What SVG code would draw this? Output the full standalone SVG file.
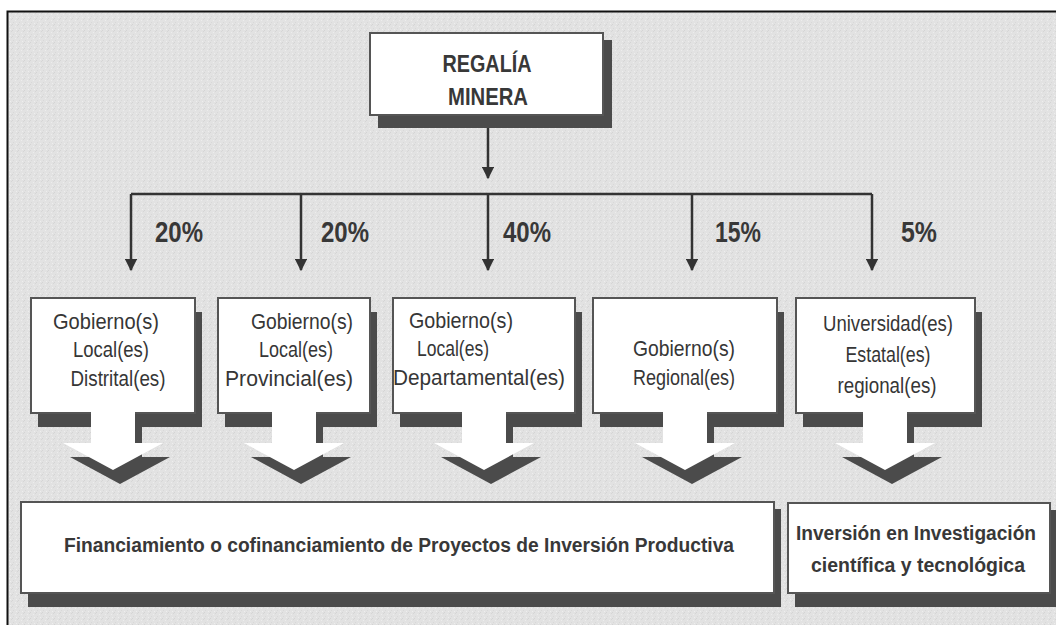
<svg xmlns="http://www.w3.org/2000/svg" width="1056" height="625" viewBox="0 0 1056 625">
<defs>
<style>
.shadow{fill:#4b4b4b}
.box{fill:#ffffff;stroke:#555;stroke-width:2}
.white{fill:#ffffff}
.t{font-family:"Liberation Sans",Arial,sans-serif;font-size:22px;fill:#363636;text-anchor:middle}
.b{font-family:"Liberation Sans",Arial,sans-serif;font-weight:bold;fill:#383838}
.pct{font-size:29px}
.ln{stroke:#333;stroke-width:2.5;fill:none}
</style>
<pattern id="tex" width="6" height="6" patternUnits="userSpaceOnUse">
<rect width="6" height="6" fill="#e2e2e2"/>
<rect x="0" y="0" width="1" height="1" fill="#d4d4d4"/>
<rect x="3" y="2" width="1" height="1" fill="#ededed"/>
<rect x="1" y="4" width="1" height="1" fill="#d8d8d8"/>
<rect x="4" y="5" width="1" height="1" fill="#eeeeee"/>
<rect x="5" y="1" width="1" height="1" fill="#d6d6d6"/>
</pattern>
<marker id="ah" viewBox="0 0 10 10" refX="9" refY="5" markerWidth="5" markerHeight="5" markerUnits="strokeWidth" orient="auto">
<path d="M0,0 L10,5 L0,10 Z" fill="#333"/>
</marker>
</defs>
<rect x="0" y="0" width="1056" height="625" fill="#ffffff"/>
<rect x="7" y="11" width="1049" height="614" fill="url(#tex)"/>
<path d="M7.5,625 V11.5 H1056" stroke="#111" stroke-width="2" fill="none"/>

<g id="connectors">
<path class="ln" d="M488,128 V178" marker-end="url(#ah)"/>
<path class="ln" d="M131,194 H872"/>
<path class="ln" d="M131,194 V270" marker-end="url(#ah)"/>
<path class="ln" d="M301,194 V270" marker-end="url(#ah)"/>
<path class="ln" d="M488,194 V270" marker-end="url(#ah)"/>
<path class="ln" d="M692,194 V270" marker-end="url(#ah)"/>
<path class="ln" d="M872,194 V270" marker-end="url(#ah)"/>
<text class="b pct" x="155" y="242" textLength="48" lengthAdjust="spacingAndGlyphs">20%</text>
<text class="b pct" x="321" y="242" textLength="48" lengthAdjust="spacingAndGlyphs">20%</text>
<text class="b pct" x="503" y="242" textLength="48" lengthAdjust="spacingAndGlyphs">40%</text>
<text class="b pct" x="715" y="242" textLength="46" lengthAdjust="spacingAndGlyphs">15%</text>
<text class="b pct" x="901" y="242" textLength="36" lengthAdjust="spacingAndGlyphs">5%</text>
</g>

<g id="regalia">
<rect class="shadow" x="378" y="40" width="234" height="88"/>
<rect class="box" x="370" y="33" width="233" height="82"/>
<text class="b" x="487" y="72" font-size="24" text-anchor="middle" textLength="89" lengthAdjust="spacingAndGlyphs">REGALÍA</text>
<text class="b" x="488" y="105" font-size="24" text-anchor="middle" textLength="80" lengthAdjust="spacingAndGlyphs">MINERA</text>
</g>

<g id="box1">
<path class="shadow" transform="translate(7,14)" d="M31,298 H195 V413 H135 V443 H163 L113,470 L63,443 H91 V413 H31 Z"/>
<rect class="box" x="31" y="298" width="164" height="115"/>
<polygon class="white" points="91,412 135,412 135,443 163,443 113,470 63,443 91,443"/>
<text class="t" x="106" y="329" textLength="106" lengthAdjust="spacingAndGlyphs">Gobierno(s)</text>
<text class="t" x="111" y="357" textLength="76" lengthAdjust="spacingAndGlyphs">Local(es)</text>
<text class="t" x="118" y="386" textLength="95" lengthAdjust="spacingAndGlyphs">Distrital(es)</text>
</g>

<g id="box2">
<path class="shadow" transform="translate(7,14)" d="M218,298 H370 V413 H316 V443 H344 L294,470 L244,443 H272 V413 H218 Z"/>
<rect class="box" x="218" y="298" width="152" height="115"/>
<polygon class="white" points="272,412 316,412 316,443 344,443 294,470 244,443 272,443"/>
<text class="t" x="302" y="329" textLength="102" lengthAdjust="spacingAndGlyphs">Gobierno(s)</text>
<text class="t" x="296" y="357" textLength="74" lengthAdjust="spacingAndGlyphs">Local(es)</text>
<text class="t" x="289" y="386" textLength="128" lengthAdjust="spacingAndGlyphs">Provincial(es)</text>
</g>

<g id="box3">
<path class="shadow" transform="translate(7,14)" d="M393,298 H575 V413 H506 V443 H534 L484,470 L434,443 H462 V413 H393 Z"/>
<rect class="box" x="393" y="298" width="182" height="115"/>
<polygon class="white" points="462,412 506,412 506,443 534,443 484,470 434,443 462,443"/>
<text class="t" x="461" y="328" textLength="104" lengthAdjust="spacingAndGlyphs">Gobierno(s)</text>
<text class="t" x="453" y="356" textLength="72" lengthAdjust="spacingAndGlyphs">Local(es)</text>
<text class="t" x="479" y="385" textLength="172" lengthAdjust="spacingAndGlyphs">Departamental(es)</text>
</g>

<g id="box4">
<path class="shadow" transform="translate(7,14)" d="M593,298 H777 V413 H707 V443 H735 L685,470 L635,443 H663 V413 H593 Z"/>
<rect class="box" x="593" y="298" width="184" height="115"/>
<polygon class="white" points="663,412 707,412 707,443 735,443 685,470 635,443 663,443"/>
<text class="t" x="684" y="356" textLength="102" lengthAdjust="spacingAndGlyphs">Gobierno(s)</text>
<text class="t" x="684" y="385" textLength="102" lengthAdjust="spacingAndGlyphs">Regional(es)</text>
</g>

<g id="box5">
<path class="shadow" transform="translate(7,14)" d="M796,298 H975 V413 H907 V443 H935 L885,470 L835,443 H863 V413 H796 Z"/>
<rect class="box" x="796" y="298" width="179" height="115"/>
<polygon class="white" points="863,412 907,412 907,443 935,443 885,470 835,443 863,443"/>
<text class="t" x="888" y="331" textLength="130" lengthAdjust="spacingAndGlyphs">Universidad(es)</text>
<text class="t" x="888" y="362" textLength="85" lengthAdjust="spacingAndGlyphs">Estatal(es)</text>
<text class="t" x="887" y="393" textLength="99" lengthAdjust="spacingAndGlyphs">regional(es)</text>
</g>

<g id="financiamiento">
<rect class="shadow" x="28" y="509" width="753" height="98"/>
<rect class="box" x="21" y="502" width="753" height="91"/>
<text class="b" x="399" y="552" font-size="20" text-anchor="middle" textLength="670" lengthAdjust="spacingAndGlyphs">Financiamiento o cofinanciamiento de Proyectos de Inversión Productiva</text>
</g>

<g id="investigacion">
<rect class="shadow" x="795" y="510" width="261" height="97"/>
<rect class="box" x="788" y="503" width="262" height="90"/>
<text class="b" x="916" y="540" font-size="20" text-anchor="middle" textLength="240" lengthAdjust="spacingAndGlyphs">Inversión en Investigación</text>
<text class="b" x="918" y="572" font-size="20" text-anchor="middle" textLength="214" lengthAdjust="spacingAndGlyphs">científica y tecnológica</text>
</g>
</svg>
